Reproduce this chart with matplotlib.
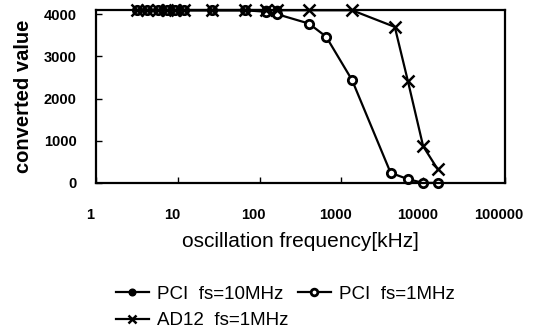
import numpy as np
import matplotlib
matplotlib.use('Agg')
import matplotlib.pyplot as plt
from matplotlib.transforms import ScaledTranslation

plt.rcParams['font.family'] = ['Liberation Sans', 'DejaVu Sans']

# frequencies [kHz]
freq = [3.2, 4.2, 5.7, 7.3, 9.2, 12, 26, 66, 120, 165, 400, 650, 1350, 4000, 6500, 10000, 15000]
freq_ad = [3.2, 4.2, 5.7, 7.3, 9.2, 12, 26, 66, 120, 165, 400, 1350, 4500, 6500, 10000, 15000]

pci_10m = [4095, 4095, 4095, 4095, 4095, 4095, 4095, 4095, 4095, 4095]
pci_1m = [4095, 4095, 4095, 4095, 4095, 4095, 4095, 4095, 4060, 4000, 3780, 3470, 2440, 240, 90, 0, 0]
ad12_1m = [4095, 4095, 4095, 4095, 4095, 4095, 4095, 4095, 4095, 4095, 4095, 4095, 3700, 2420, 870, 330]

fig = plt.figure(figsize=(5.4, 3.35), dpi=100)
ax = fig.add_axes([0.178, 0.454, 0.757, 0.516])

ax.plot(freq[:len(pci_10m)], pci_10m, '-o', color='black', lw=1.6, ms=6,
        mfc='black', clip_on=False, label='PCI  fs=10MHz')
ax.plot(freq, pci_1m, '-o', color='black', lw=1.6, ms=6, mfc='white',
        mew=2, clip_on=False, label='PCI  fs=1MHz')
ax.plot(freq_ad, ad12_1m, '-x', color='black', lw=1.6, ms=8, mew=1.8,
        clip_on=False, label='AD12  fs=1MHz')

ax.set_xscale('log')
ax.set_xlim(1, 100000)
ax.set_ylim(0, 4100)
ax.set_xticks([1, 10, 100, 1000, 10000, 100000])
ax.set_xticklabels(['1', '10', '100', '1000', '10000', '100000'])
ax.xaxis.set_minor_locator(matplotlib.ticker.NullLocator())
ax.set_yticks([0, 1000, 2000, 3000, 4000])

ax.tick_params(axis='x', direction='in', length=4, width=1, pad=18, labelsize=10.5)
ax.tick_params(axis='y', direction='in', length=4, width=1, pad=14, labelsize=10.5)
for lab in ax.get_xticklabels() + ax.get_yticklabels():
    lab.set_fontweight('bold')
shift = ScaledTranslation(-6 / 100, 0, fig.dpi_scale_trans)
for lab in ax.get_xticklabels():
    lab.set_transform(lab.get_transform() + shift)

for s in ax.spines.values():
    s.set_linewidth(1.6)

ax.set_xlabel('oscillation frequency[kHz]', fontsize=15, labelpad=7)
ax.set_ylabel('converted value', fontsize=14.5, fontweight='bold', labelpad=8)

h, l = ax.get_legend_handles_labels()
order = [0, 2, 1]
leg = fig.legend([h[i] for i in order], [l[i] for i in order], loc='upper left',
                 bbox_to_anchor=(0.2, 0.17), ncol=2, frameon=False, fontsize=13.5,
                 handlelength=1.8, handletextpad=0.4, columnspacing=0.5,
                 labelspacing=0.5, borderaxespad=0, markerscale=0.8)

fig.savefig('out.png', dpi=100)
